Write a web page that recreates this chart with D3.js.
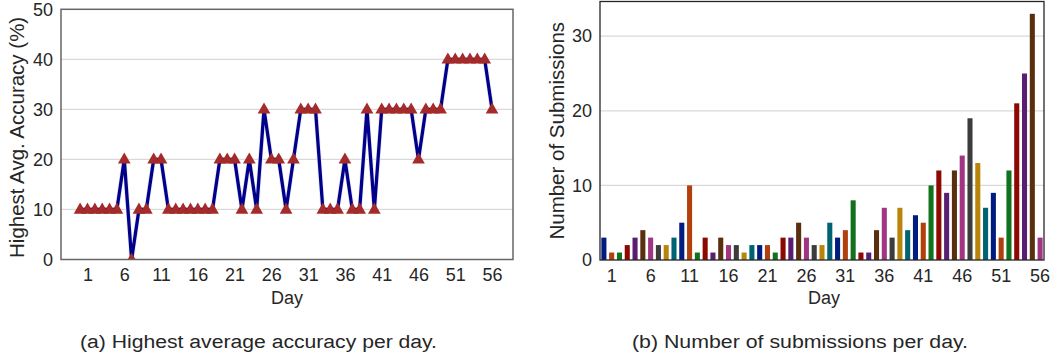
<!DOCTYPE html>
<html>
<head>
<meta charset="utf-8">
<script src="https://cdn.jsdelivr.net/npm/d3@7"></script>
<style>
  body { margin: 0; background: #fff; }
  text { font-family: "Liberation Sans", Arial, sans-serif; fill: #262626; }
</style>
</head>
<body>
<div id="chart"></div>
<script>
var width = 1057,
    height = 361;

// days 0..56, tick labels start at 1
var days = d3.range(0, 57);
var tickDays = [1, 6, 11, 16, 21, 26, 31, 36, 41, 46, 51, 56];

var accuracy = [10, 10, 10, 10, 10, 10, 20, 0, 10, 10,
                20, 20, 10, 10, 10, 10, 10, 10, 10, 20,
                20, 20, 10, 20, 10, 30, 20, 20, 10, 20,
                30, 30, 30, 10, 10, 10, 20, 10, 10, 30,
                10, 30, 30, 30, 30, 30, 20, 30, 30, 30,
                40, 40, 40, 40, 40, 40, 30];

var submissions = [3, 1, 1, 2, 3, 4, 3, 2, 2, 3,
                   5, 10, 1, 3, 1, 3, 2, 2, 1, 2,
                   2, 2, 1, 3, 3, 5, 3, 2, 2, 5,
                   3, 4, 8, 1, 1, 4, 7, 3, 7, 4,
                   6, 5, 10, 12, 9, 12, 14, 19, 13, 7,
                   9, 3, 12, 21, 25, 33, 3];

var accTicks = [0, 10, 20, 30, 40, 50];
var subTicks = [0, 10, 20, 30];

var palette = ["#001c7f", "#b1400d", "#12711c", "#8c0800", "#591e71",
               "#592f0d", "#a23582", "#3c3c3c", "#b8850a", "#006374"];

var svg = d3.select("#chart").append("svg")
    .attr("width", width)
    .attr("height", height);

var styleTicks = function (sel) {
    sel.select(".domain").remove();
    sel.selectAll("text")
        .attr("font-size", 18)
        .attr("font-family", "Liberation Sans, Arial, sans-serif")
        .style("fill", "#262626");
};

/* ---------- (a) line chart ---------- */
var a = {left: 61, right: 513, top: 9.3, bottom: 259.5};

var xA = d3.scaleLinear().domain([-2.6, 58.85]).range([a.left, a.right]);
var yA = d3.scaleLinear().domain([0, 50]).range([a.bottom, a.top]);

svg.append("clipPath").attr("id", "clipA")
    .append("rect")
    .attr("x", a.left).attr("y", a.top)
    .attr("width", a.right - a.left).attr("height", a.bottom - a.top);

var gA = svg.append("g");

gA.selectAll(".gridA")
    .data(accTicks.slice(1, -1))
    .enter()
    .append("line")
    .attr("x1", a.left).attr("x2", a.right)
    .attr("y1", function (d) { return yA(d); })
    .attr("y2", function (d) { return yA(d); })
    .style("stroke", "#d9d9d9")
    .style("stroke-width", 1.3);

gA.append("g")
    .attr("transform", "translate(" + a.left + ",0)")
    .call(d3.axisLeft(yA).tickValues(accTicks).tickSize(0).tickPadding(8))
    .call(styleTicks);

gA.append("g")
    .attr("transform", "translate(0," + a.bottom + ")")
    .call(d3.axisBottom(xA).tickValues(tickDays).tickSize(0).tickPadding(9))
    .call(styleTicks);

var line = d3.line()
    .x(function (d, i) { return xA(days[i]); })
    .y(function (d) { return yA(d); });

var plotA = gA.append("g").attr("clip-path", "url(#clipA)");

plotA.append("path")
    .datum(accuracy)
    .attr("d", line)
    .style("fill", "none")
    .style("stroke", "#e8e8f4")
    .style("stroke-width", 4.8);

plotA.append("path")
    .datum(accuracy)
    .attr("d", line)
    .style("fill", "none")
    .style("stroke", "#00008b")
    .style("stroke-width", 3.3);

var tri = d3.symbol().type(d3.symbolTriangle).size(70);
plotA.selectAll(".tri")
    .data(accuracy)
    .enter()
    .append("path")
    .attr("class", "tri")
    .attr("d", tri)
    .attr("transform", function (d, i) {
        return "translate(" + xA(days[i]) + "," + (yA(d) + 0.5) + ")";
    })
    .style("fill", "#a52a2a");

gA.append("rect")
    .attr("x", a.left).attr("y", a.top)
    .attr("width", a.right - a.left).attr("height", a.bottom - a.top)
    .style("fill", "none")
    .style("stroke", "#666")
    .style("stroke-width", 1.5);

gA.append("text")
    .attr("transform", "translate(19," + ((a.top + a.bottom) / 2 + 3) + ") rotate(-90)")
    .attr("text-anchor", "middle")
    .attr("dominant-baseline", "middle")
    .attr("font-size", 20.5)
    .text("Highest Avg. Accuracy (%)");

/* ---------- (b) bar chart ---------- */
var b = {left: 600, right: 1044, top: 1.5, bottom: 260};

var xB = d3.scaleBand().domain(days).range([b.left, b.right])
    .paddingInner(0.35).paddingOuter(0.175);
var yB = d3.scaleLinear().domain([0, 34.65]).range([b.bottom, b.top]);

var gB = svg.append("g");

gB.selectAll(".gridB")
    .data(subTicks.slice(1))
    .enter()
    .append("line")
    .attr("x1", b.left).attr("x2", b.right)
    .attr("y1", function (d) { return yB(d); })
    .attr("y2", function (d) { return yB(d); })
    .style("stroke", "#d9d9d9")
    .style("stroke-width", 1.3);

gB.selectAll(".bar")
    .data(submissions)
    .enter()
    .append("rect")
    .attr("class", "bar")
    .attr("x", function (d, i) { return xB(days[i]); })
    .attr("width", xB.bandwidth())
    .attr("y", function (d) { return yB(d); })
    .attr("height", function (d) { return yB(0) - yB(d); })
    .style("fill", function (d, i) { return palette[i % palette.length]; });

gB.append("g")
    .attr("transform", "translate(" + b.left + ",0)")
    .call(d3.axisLeft(yB).tickValues(subTicks).tickSize(0).tickPadding(8))
    .call(styleTicks);

gB.append("g")
    .attr("transform", "translate(0," + b.bottom + ")")
    .call(d3.axisBottom(xB).tickValues(tickDays).tickSize(0).tickPadding(9))
    .call(styleTicks);

gB.append("rect")
    .attr("x", b.left).attr("y", b.top)
    .attr("width", b.right - b.left).attr("height", b.bottom - b.top)
    .style("fill", "none")
    .style("stroke", "#262626")
    .style("stroke-width", 1.3);

gB.append("text")
    .attr("transform", "translate(559," + ((b.top + b.bottom) / 2) + ") rotate(-90)")
    .attr("text-anchor", "middle")
    .attr("dominant-baseline", "middle")
    .attr("font-size", 20.5)
    .text("Number of Submissions");

/* ---------- x labels and captions ---------- */
svg.append("text")
    .attr("x", (a.left + a.right) / 2).attr("y", 303.5)
    .attr("text-anchor", "middle")
    .attr("font-size", 18)
    .text("Day");

svg.append("text")
    .attr("x", (b.left + b.right) / 2 + 2).attr("y", 303.5)
    .attr("text-anchor", "middle")
    .attr("font-size", 18)
    .text("Day");

svg.append("text")
    .attr("x", 80).attr("y", 348)
    .attr("font-size", 18)
    .attr("textLength", 357)
    .attr("lengthAdjust", "spacingAndGlyphs")
    .text("(a) Highest average accuracy per day.");

svg.append("text")
    .attr("x", 632).attr("y", 348)
    .attr("font-size", 18)
    .attr("textLength", 336)
    .attr("lengthAdjust", "spacingAndGlyphs")
    .text("(b) Number of submissions per day.");
</script>
</body>
</html>
